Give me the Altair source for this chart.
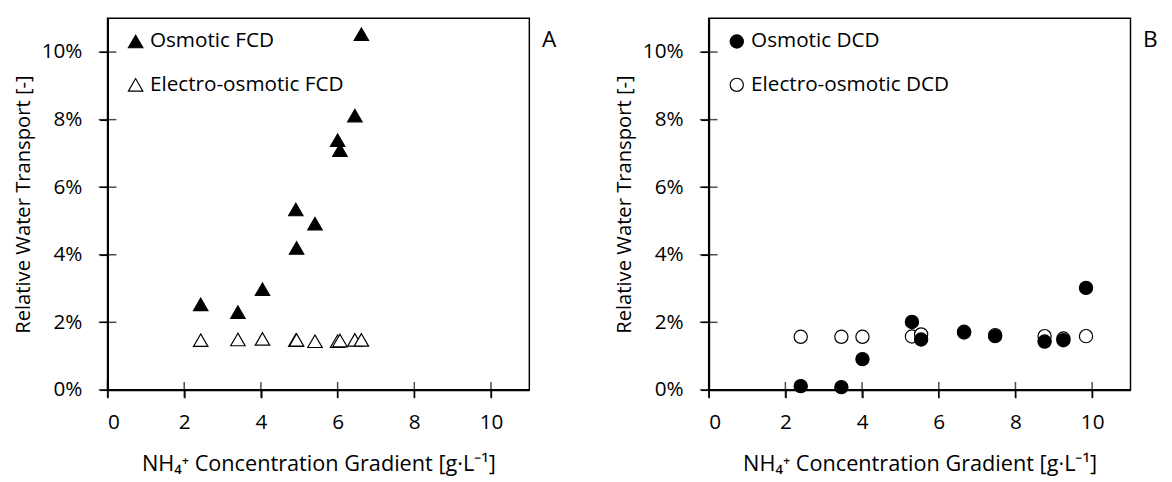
import altair as alt
import pandas as pd

# ---- data ----
fcd_x = [2.43, 3.40, 4.04, 4.91, 4.93, 5.41, 6.00, 6.06, 6.45, 6.62]
fcd_osmotic = [2.53, 2.30, 2.98, 5.34, 4.20, 4.92, 7.39, 7.10, 8.12, 10.53]
fcd_electro = [1.47, 1.49, 1.51, 1.47, 1.48, 1.44, 1.44, 1.46, 1.48, 1.48]

dcd_x = [2.40, 3.46, 4.01, 5.30, 5.54, 6.66, 7.47, 8.76, 9.25, 9.84]
dcd_osmotic = [0.11, 0.08, 0.91, 2.01, 1.49, 1.70, 1.59, 1.43, 1.47, 3.02]
dcd_electro = [1.57, 1.57, 1.57, 1.58, 1.64, 1.72, 1.62, 1.59, 1.52, 1.59]

fcd_names = ["Osmotic FCD", "Electro-osmotic FCD"]
dcd_names = ["Osmotic DCD", "Electro-osmotic DCD"]
panel_letters = ["A", "B"]

x_ticks = [0, 2, 4, 6, 8, 10]
y_ticks = [0, 2, 4, 6, 8, 10]  # percent

x_title = "NH\u2084\u207a Concentration Gradient [g\u00b7L\u207b\u00b9]"
y_title = "Relative Water Transport [-]"

FONT = "Open Sans"
W, H = 428, 377


def panel(xs, osm, eo, names, shape, size, letter):
    rows = []
    for x, v in zip(xs, eo):
        rows.append({"x": x, "y": v / 100, "series": names[1]})
    for x, v in zip(xs, osm):
        rows.append({"x": x, "y": v / 100, "series": names[0]})
    df = pd.DataFrame(rows)

    xscale = alt.Scale(domain=[0, 11], nice=False, zero=False)
    yscale = alt.Scale(domain=[0, 0.11], nice=False, zero=False)
    xaxis = alt.Axis(values=x_ticks, title=x_title, grid=False, tickSize=8,
                     labelPadding=14, titlePadding=22, titleFontSize=22)
    yaxis = alt.Axis(values=[v / 100 for v in y_ticks], format=".0%", title=y_title,
                     grid=False, tickSize=8, labelPadding=18, titlePadding=8,
                     titleFontSize=20.5)

    leg = alt.Legend(title=None, orient="none", legendX=18, legendY=13,
                     labelFontSize=21, labelFont=FONT, symbolSize=size, rowPadding=22,
                     labelOffset=4, symbolStrokeColor="black", symbolStrokeWidth=1.2,
                     symbolOpacity=1, labelLimit=400)

    pts = alt.Chart(df).mark_point(filled=True, strokeWidth=1.2,
                                   size=size, opacity=1).encode(
        x=alt.X("x:Q", scale=xscale, axis=xaxis),
        y=alt.Y("y:Q", scale=yscale, axis=yaxis),
        shape=alt.Shape("series:N", scale=alt.Scale(domain=names, range=[shape, shape]),
                        legend=leg),
        fill=alt.Fill("series:N", scale=alt.Scale(domain=names, range=["black", "white"]),
                      legend=leg),
        stroke=alt.Stroke("series:N", scale=alt.Scale(domain=names, range=["black", "black"]),
                          legend=leg),
    )

    xt = alt.Chart(pd.DataFrame({"x": x_ticks})).mark_tick(
        orient="vertical", size=16, thickness=1.5, color="black").encode(
        x=alt.X("x:Q", scale=xscale, axis=xaxis),
        y=alt.datum(0),
    )
    yt = alt.Chart(pd.DataFrame({"y": [v / 100 for v in y_ticks]})).mark_tick(
        orient="horizontal", size=18, thickness=1.5, color="black").encode(
        y=alt.Y("y:Q", scale=yscale, axis=yaxis),
        x=alt.datum(0),
    )
    lab = alt.Chart(pd.DataFrame({"l": [letter]})).mark_text(
        font=FONT, fontSize=23, align="center", baseline="middle", color="black").encode(
        x=alt.value(W + 20), y=alt.value(22), text="l:N")

    return alt.layer(xt, yt, pts, lab).properties(width=W, height=H)


left = panel(fcd_x, fcd_osmotic, fcd_electro, fcd_names, "triangle-up", 215, panel_letters[0])
right = panel(dcd_x, dcd_osmotic, dcd_electro, dcd_names, "circle", 180, panel_letters[1])

chart = alt.hconcat(left, right, spacing=56).resolve_scale(
    shape="independent", fill="independent", stroke="independent"
).properties(
    padding={"left": 4, "top": 6, "right": 5, "bottom": 0}
).configure_view(
    stroke="black", strokeWidth=1.5
).configure_axis(
    labelFont=FONT, titleFont=FONT, labelFontSize=21, titleFontSize=21,
    labelColor="black", titleColor="black", domainColor="black", tickColor="black",
    domainWidth=2, tickWidth=1.5, titleFontWeight="normal"
).configure_legend(
    labelColor="black"
)

chart.save("out.html", embed_options={"renderer": "svg", "actions": False})
